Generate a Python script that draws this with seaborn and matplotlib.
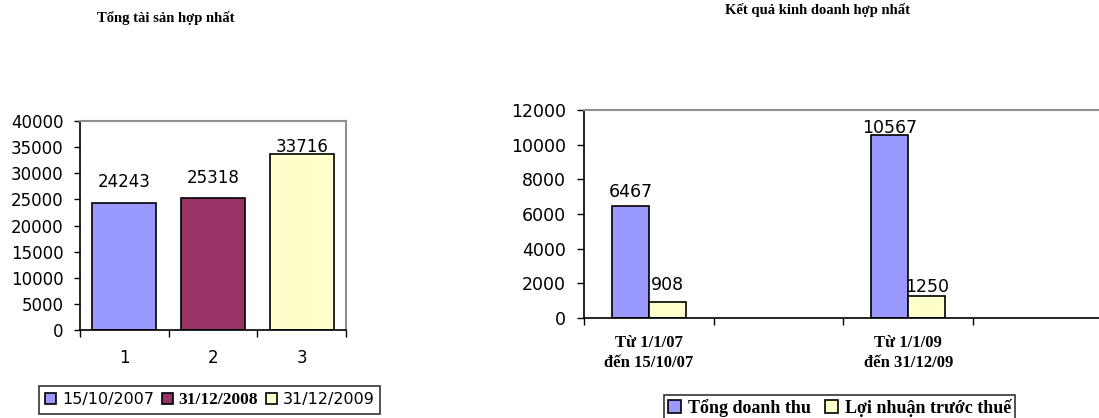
import pandas as pd
import seaborn as sns
import matplotlib
matplotlib.use("Agg")
import matplotlib.pyplot as plt

# left chart: total assets
asset_cats = ["1", "2", "3"]
asset_dates = ["15/10/2007", "31/12/2008", "31/12/2009"]
asset_vals = [24243, 25318, 33716]

# right chart: business results
period_labels = ["Từ 1/1/07\nđến 15/10/07", " ", "Từ 1/1/09\nđến 31/12/09", "  "]
periods_with_data = ["Từ 1/1/07\nđến 15/10/07", "Từ 1/1/09\nđến 31/12/09"]
revenue = [6467, 10567]
profit = [908, 1250]
series_names = ["Tổng doanh thu", "Lợi nhuận trước thuế"]

BLUE = "#9999FF"
MAROON = "#993366"
CREAM = "#FFFFCC"
SANS = "DejaVu Sans"
SERIF = "Liberation Serif"

sns.set_style("white")
plt.rcParams["font.family"] = [SANS]
plt.rcParams["text.color"] = "black"
plt.rcParams["xtick.color"] = "black"
plt.rcParams["ytick.color"] = "black"
plt.rcParams["xtick.labelcolor"] = "black"
plt.rcParams["ytick.labelcolor"] = "black"

fig = plt.figure(figsize=(10.99, 4.18), dpi=100)

# ---------------- left chart ----------------
ax1 = fig.add_axes([0.0728, 0.2105, 0.242, 0.50])
df1 = pd.DataFrame({"cat": asset_cats, "date": asset_dates, "val": asset_vals})
sns.barplot(data=df1, x="cat", y="val", hue="date", dodge=False, width=0.72,
            palette=[BLUE, MAROON, CREAM], saturation=1, edgecolor="black",
            linewidth=1.2, ax=ax1, legend=True)
ax1.set_ylim(0, 40000)
ax1.set_yticks(range(0, 40001, 5000))
ax1.set_xlim(-0.5, 2.5)
ax1.set_xlabel("")
ax1.set_ylabel("")
ax1.set_xticks([0, 1, 2])
ax1.set_xticks([-0.5, 0.5, 1.5, 2.5], minor=True)
ax1.tick_params(axis="x", which="major", length=0, pad=14, labelsize=12)
ax1.tick_params(axis="x", which="minor", length=5, width=1, direction="out", bottom=True)
ax1.tick_params(axis="y", length=4, width=1, direction="out", left=True, labelsize=12, pad=8)
for s in ["left", "bottom"]:
    ax1.spines[s].set_color("black")
    ax1.spines[s].set_linewidth(1.2)
for s in ["top", "right"]:
    ax1.spines[s].set_color("#909090")
    ax1.spines[s].set_linewidth(1.5)

left_offsets = [21, 20, 7]
for cont, off in zip(ax1.containers, left_offsets):
    for bar in cont:
        h = bar.get_height()
        if h != h or h == 0:
            continue
        ax1.annotate(f"{int(h)}", (bar.get_x() + bar.get_width() / 2, h),
                     xytext=(0, off), textcoords="offset pixels",
                     ha="center", va="center", fontsize=12)

leg1 = ax1.legend(loc="center", bbox_to_anchor=(0.191, 0.043),
                  bbox_transform=fig.transFigure, ncol=3, frameon=True,
                  fancybox=False, edgecolor="black", handlelength=0.7,
                  handleheight=0.7, handletextpad=0.35, columnspacing=0.5,
                  borderpad=0.35, fontsize=11.5)
leg1.get_frame().set_linewidth(1.2)
leg1.get_texts()[1].set_fontfamily(SERIF)
leg1.get_texts()[1].set_fontweight("bold")
leg1.get_texts()[1].set_fontsize(12.5)

fig.text(0.151, 1 - 18 / 418, "Tổng tài sản hợp nhất", ha="center", va="center",
         family=SERIF, fontweight="bold", fontsize=10.5)

# ---------------- right chart ----------------
ax2 = fig.add_axes([0.5314, 0.239, 0.472, 0.498])
df2 = pd.DataFrame({
    "period": periods_with_data * 2,
    "series": [series_names[0]] * 2 + [series_names[1]] * 2,
    "val": revenue + profit,
})
sns.barplot(data=df2, x="period", y="val", hue="series", order=period_labels,
            hue_order=series_names, palette=[BLUE, CREAM], saturation=1,
            width=0.57, edgecolor="black", linewidth=1.2, ax=ax2)
ax2.set_ylim(0, 12000)
ax2.set_yticks(range(0, 12001, 2000))
ax2.set_xlim(-0.5, 3.5)
ax2.set_xlabel("")
ax2.set_ylabel("")
ax2.set_xticks([0, 1, 2, 3])
ax2.set_xticklabels(period_labels, family=SERIF, fontweight="bold", fontsize=12,
                    linespacing=1.35)
ax2.set_xticks([-0.5, 0.5, 1.5, 2.5, 3.5], minor=True)
ax2.tick_params(axis="x", which="major", length=0, pad=12)
ax2.tick_params(axis="x", which="minor", length=5, width=1, direction="out", bottom=True)
ax2.tick_params(axis="y", length=5, width=1, direction="out", left=True, labelsize=12.5, pad=8)
for s in ["left", "bottom"]:
    ax2.spines[s].set_color("black")
    ax2.spines[s].set_linewidth(1.2)
ax2.spines["top"].set_color("#909090")
ax2.spines["top"].set_linewidth(1.5)
ax2.spines["right"].set_visible(False)

right_offsets = [[14, 7], [17, 9]]
for cont, offs in zip(ax2.containers, right_offsets):
    bars = [b for b in cont if b.get_height() == b.get_height() and b.get_height() > 0]
    for bar, off in zip(bars, offs):
        h = bar.get_height()
        ax2.annotate(f"{int(h)}", (bar.get_x() + bar.get_width() / 2, h),
                     xytext=(0, off), textcoords="offset pixels",
                     ha="center", va="center", fontsize=12.5)

leg2 = ax2.legend(loc="upper center", bbox_to_anchor=(0.764, (418 - 395) / 418),
                  bbox_transform=fig.transFigure, ncol=2, frameon=True,
                  fancybox=False, edgecolor="black", handlelength=0.7,
                  handleheight=0.7, handletextpad=0.4, columnspacing=0.8,
                  borderpad=0.2, borderaxespad=0,
                  prop={"family": SERIF, "weight": "bold", "size": 13})
leg2.get_frame().set_linewidth(1.2)

fig.text(0.744, 1 - 10 / 418, "Kết quả kinh doanh hợp nhất", ha="center", va="center",
         family=SERIF, fontweight="bold", fontsize=10.5)

fig.savefig("out.png", dpi=100)
